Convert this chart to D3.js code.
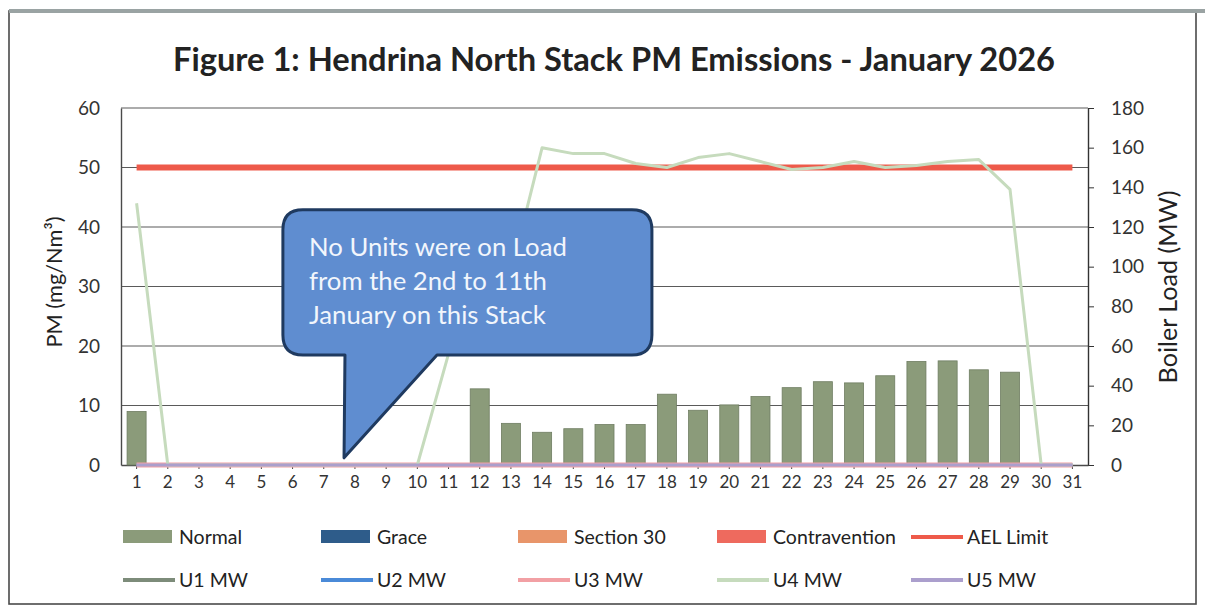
<!DOCTYPE html>
<html><head><meta charset="utf-8">
<script src="https://cdn.jsdelivr.net/npm/d3@7"></script>
<style>body{margin:0;background:#fff}svg{display:block}text{font-family:Lato,"Open Sans",sans-serif}</style>
</head><body><svg id="c" width="1205" height="609"></svg>
<script>
const days = d3.range(1, 32);
const dayLabels = days.map(String);
// PM (mg/Nm3) - Normal category (null = no data)
const normalPM = [9.0,null,null,null,null,null,null,null,null,null,null,12.8,7.0,5.5,6.1,6.8,6.8,11.9,9.2,10.1,11.5,13.0,14.0,13.8,15.0,17.4,17.5,16.0,15.6,null,null];
const gracePM = days.map(() => null);
const section30PM = days.map(() => null);
const contraventionPM = days.map(() => null);
const aelLimit = days.map(() => 50);
const u1MW = days.map(() => 0);
const u2MW = days.map(() => 0);
const u3MW = days.map(() => 0);
const u4MW = [132,0,0,0,0,0,0,0,0,0,56,77,97,160,157,157,152,150,155,157,153,149,150,153,150,151,153,154,139,0,0];
const u5MW = days.map(() => 0);
const leftTicks = [0,10,20,30,40,50,60];
const rightTicks = [0,20,40,60,80,100,120,140,160,180];
const titleText = "Figure 1: Hendrina North Stack PM Emissions - January 2026";
const calloutLines = ["No Units were on Load","from the 2nd to 11th","January on this Stack"];

const svg = d3.select("#c");
const L = 121, R = 1088, B = 465, T = 108;
const x = d3.scaleBand().domain(days).range([L, R]).padding(0);
const xf = d3.scaleLinear().domain([0.5, 31.5]).range([L, R]);
const yL = d3.scaleLinear().domain([0, 60]).range([B, T]);
const yR = d3.scaleLinear().domain([0, 180]).range([B, T]);
const cx = d => x(d) + x.bandwidth() / 2;

function fit(sel, w) { const n = sel.node(); const fs = parseFloat(sel.attr("font-size")); const m = n.getComputedTextLength(); const nf = fs * w / m; sel.attr("font-size", nf.toFixed(2)); return nf; }

// outer frame
svg.append("rect").attr("x", 9).attr("y", 11).attr("width", 1187).attr("height", 593).attr("fill", "none").attr("stroke", "#4a4a4a").attr("stroke-width", 1.6);
svg.append("line").attr("x1", 9).attr("x2", 1205).attr("y1", 11).attr("y2", 11).attr("stroke", "#9aa3a3").attr("stroke-width", 4);

// title
const title = svg.append("text").attr("x", 614).attr("y", 71).attr("text-anchor", "middle").attr("font-size", 28).attr("font-weight", "bold").attr("fill", "#222").text(titleText);
fit(title, 882);

// gridlines
svg.append("g").selectAll("line").data(leftTicks.filter(t => t > 0)).join("line")
  .attr("x1", L).attr("x2", R).attr("y1", d => yL(d)).attr("y2", d => yL(d))
  .attr("stroke", "#5a5a5a").attr("stroke-width", 1.2);

// left axis
const gl = svg.append("g").attr("transform", `translate(${L},0)`).call(d3.axisLeft(yL).tickValues(leftTicks).tickSize(0).tickPadding(21));
gl.select(".domain").attr("stroke", "#4a4a4a").attr("stroke-width", 1.4);
gl.selectAll("text").attr("font-size", 19).attr("fill", "#333").attr("font-family", "Lato");

// right axis
const gr = svg.append("g").attr("transform", `translate(${R},0)`).call(d3.axisRight(yR).tickValues(rightTicks).tickSize(6).tickSizeOuter(0).tickPadding(17));
gr.select(".domain").attr("stroke", "#333").attr("stroke-width", 1.4);
gr.selectAll(".tick line").attr("stroke", "#333");
gr.selectAll("text").attr("font-size", 19).attr("fill", "#333").attr("font-family", "Lato");

// bottom axis
const gb = svg.append("g").attr("transform", `translate(0,${B})`).call(d3.axisBottom(x).tickValues(days).tickFormat((d, i) => dayLabels[i]).tickSize(4).tickSizeOuter(0).tickPadding(7));
gb.select(".domain").attr("stroke", "#4a4a4a").attr("stroke-width", 1.4);
gb.selectAll(".tick line").attr("stroke", "#444");
gb.selectAll("text").attr("font-size", 17).attr("fill", "#333").attr("font-family", "Lato");

// axis titles
const yt1 = svg.append("text").attr("transform", "translate(62,282) rotate(-90)").attr("text-anchor", "middle").attr("font-size", 20).attr("fill", "#222").text("PM (mg/Nm³)");
fit(yt1, 131);
const yt2 = svg.append("text").attr("transform", "translate(1177,287) rotate(-90)").attr("text-anchor", "middle").attr("font-size", 20).attr("fill", "#222").text("Boiler Load (MW)");
fit(yt2, 193);

// bars
const bw = x.bandwidth() * 0.61;
const barSeries = [[normalPM, "#8b9b7a"], [gracePM, "#2e5c8a"], [section30PM, "#e8956a"], [contraventionPM, "#ee6a5e"]];
barSeries.forEach(([vals, col]) => {
  svg.append("g").selectAll("rect").data(days.filter((d, i) => vals[i] != null)).join("rect")
    .attr("x", d => cx(d) - bw / 2).attr("width", bw)
    .attr("y", d => yL(vals[d - 1])).attr("height", d => B - yL(vals[d - 1]))
    .attr("fill", col).attr("stroke", "#6f7d62").attr("stroke-width", 0.8);
});

// AEL limit
svg.append("path").datum(days).attr("fill", "none").attr("stroke", "#ee5a4a").attr("stroke-width", 6)
  .attr("d", d3.line().x(d => cx(d)).y(d => yL(aelLimit[d - 1])));

// MW lines
const mwSeries = [[u1MW, "#7d8c7a", 3], [u2MW, "#4a8ad8", 3], [u3MW, "#f2a0a4", 5], [u4MW, "#c6dbbd", 3], [u5MW, "#ab9fcd", 3]];
mwSeries.forEach(([vals, col, w]) => {
  svg.append("path").datum(days).attr("fill", "none").attr("stroke", col).attr("stroke-width", w).attr("stroke-linejoin", "round")
    .attr("d", d3.line().x(d => cx(d)).y(d => yR(vals[d - 1])));
});

// callout annotation
const cL = xf(5.69), cRr = xf(17.52), cT = yL(42.9), cB = yL(18.5), r = 20;
const tL = xf(7.68), tR = xf(10.63), tipX = xf(7.65), tipY = yL(1.2);
const p = d3.path();
p.moveTo(cL + r, cT); p.lineTo(cRr - r, cT); p.quadraticCurveTo(cRr, cT, cRr, cT + r);
p.lineTo(cRr, cB - r); p.quadraticCurveTo(cRr, cB, cRr - r, cB);
p.lineTo(tR, cB); p.lineTo(tipX, tipY); p.lineTo(tL, cB);
p.lineTo(cL + r, cB); p.quadraticCurveTo(cL, cB, cL, cB - r);
p.lineTo(cL, cT + r); p.quadraticCurveTo(cL, cT, cL + r, cT); p.closePath();
svg.append("path").attr("d", p.toString()).attr("fill", "#5f8dd0").attr("stroke", "#1f3a60").attr("stroke-width", 3).attr("stroke-linejoin", "round");
let calloutFs = 24;
calloutLines.forEach((t, i) => {
  const tx = svg.append("text").attr("x", 309).attr("y", 256 + i * 34).attr("font-size", calloutFs).attr("fill", "#f2f6fc").text(t);
  if (i === 0) calloutFs = fit(tx, 258);
});

// legend
const row1 = [["Normal", "rect", "#8b9b7a"], ["Grace", "rect", "#2e5c8a"], ["Section 30", "rect", "#e8956a"], ["Contravention", "rect", "#ee6a5e"], ["AEL Limit", "line", "#ee5a4a"]];
const row2 = [["U1 MW", "line", "#7d8c7a"], ["U2 MW", "line", "#4a8ad8"], ["U3 MW", "line", "#f2a0a4"], ["U4 MW", "line", "#c6dbbd"], ["U5 MW", "line", "#ab9fcd"]];
const lx = [123, 321, 518, 717, 911];
[[row1, 537], [row2, 580]].forEach(([row, ly]) => {
  const g = svg.append("g").selectAll("g").data(row).join("g").attr("transform", (d, i) => `translate(${lx[i]},${ly})`);
  g.filter(d => d[1] === "rect").append("rect").attr("x", 0).attr("y", -7).attr("width", 49).attr("height", 13).attr("fill", d => d[2]);
  g.filter(d => d[1] === "line").append("line").attr("x1", 0).attr("x2", 52).attr("y1", 0).attr("y2", 0).attr("stroke", d => d[2]).attr("stroke-width", 4);
  g.append("text").attr("x", 56).attr("y", 0).attr("dy", "0.35em").attr("font-size", 19.5).attr("fill", "#222").text(d => d[0]);
});
</script></body></html>
